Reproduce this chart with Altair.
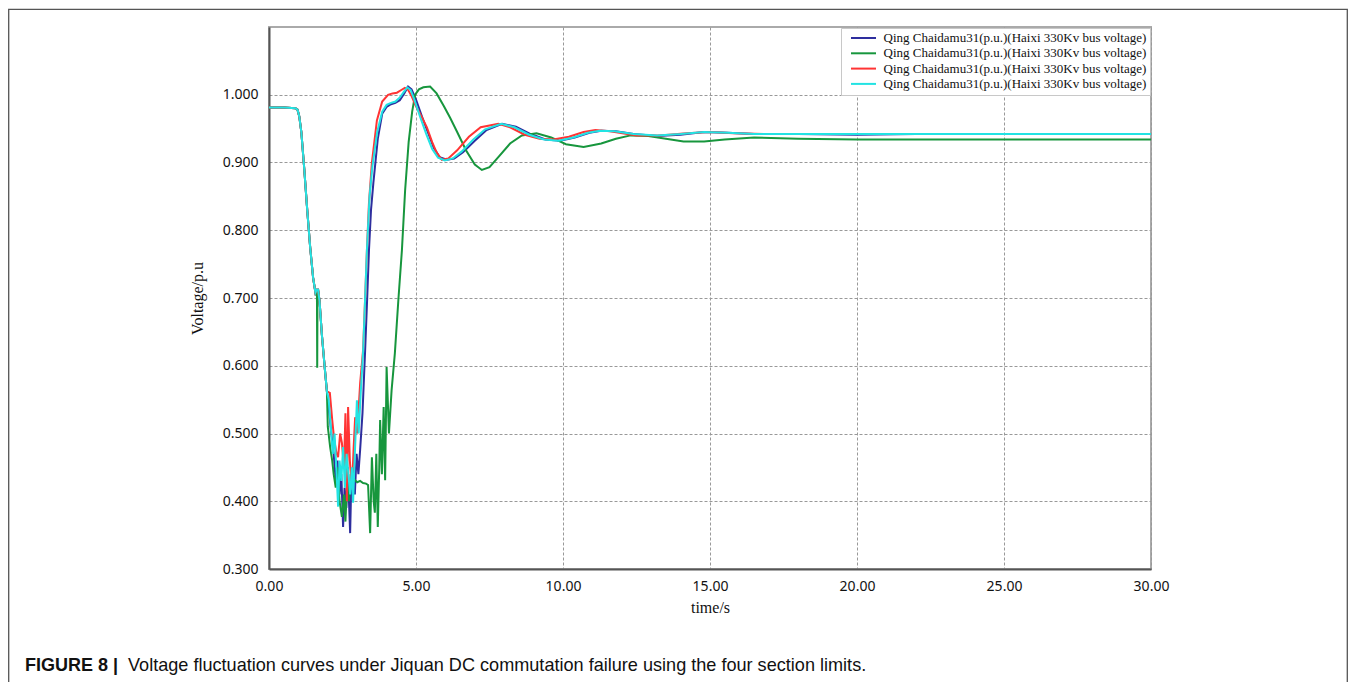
import altair as alt
import pandas as pd

series_keys = ["s1", "s2", "s3", "s4"]
legend_labels = ["Qing Chaidamu31(p.u.)(Haixi 330Kv bus voltage)"] * 4
series_colors = ["#2e2e9e", "#17963d", "#ff3434", "#22e3e3"]

x_ticks = [0, 5, 10, 15, 20, 25, 30]
y_ticks = [0.3, 0.4, 0.5, 0.6, 0.7, 0.8, 0.9, 1.0]

caption_bold = "FIGURE 8 |"
caption_text = "Voltage fluctuation curves under Jiquan DC commutation failure using the four section limits."

# common initial part (pre-fault and first drop)
t_drop = [0.0, 0.5, 0.9, 0.97, 1.03, 1.1, 1.2, 1.3, 1.4, 1.5, 1.58, 1.62, 1.67, 1.72, 1.8, 1.9, 1.97]
v_drop = [0.981, 0.981, 0.980, 0.978, 0.968, 0.945, 0.890, 0.830, 0.775, 0.730, 0.708, 0.712, 0.712, 0.695, 0.645, 0.595, 0.562]

t_blue = [2.05, 2.12, 2.2, 2.27, 2.33, 2.4, 2.46, 2.52, 2.57, 2.63, 2.68, 2.72, 2.76, 2.8, 2.86, 2.92, 2.98, 3.04, 3.1, 3.18,
          3.27, 3.34, 3.4, 3.47, 3.55, 3.7, 3.85, 4.0, 4.15, 4.3, 4.45, 4.6, 4.73, 4.85, 5.0, 5.2, 5.4, 5.6, 5.8, 6.05,
          6.3, 6.6, 7.0, 7.4, 7.93, 8.4, 8.9, 9.4, 9.9, 10.4, 10.9, 11.3, 11.8, 12.4, 13.2, 14.0, 14.8, 15.6, 16.5, 18.0,
          20.0, 22.0, 25.0, 28.0, 30.0]
v_blue = [0.53, 0.50, 0.47, 0.43, 0.46, 0.41, 0.44, 0.362, 0.42, 0.39, 0.45, 0.40, 0.353, 0.43, 0.45, 0.41, 0.47, 0.44, 0.476, 0.53,
          0.623, 0.70, 0.77, 0.83, 0.87, 0.935, 0.972, 0.982, 0.986, 0.988, 0.992, 1.002, 1.012, 1.008, 0.993, 0.968, 0.945, 0.922, 0.908, 0.904,
          0.906, 0.915, 0.932, 0.948, 0.957, 0.953, 0.942, 0.934, 0.932, 0.937, 0.944, 0.947, 0.946, 0.942, 0.939, 0.941, 0.945, 0.944, 0.942, 0.942,
          0.941, 0.942, 0.942, 0.942, 0.942]

t_green = [1.63, 1.64, 1.65,
           2.0, 2.08, 2.15, 2.2, 2.27, 2.33, 2.4, 2.48, 2.55, 2.6, 2.66, 2.72, 2.78, 2.82, 2.9, 3.0, 3.1, 3.2, 3.3, 3.37,
           3.44, 3.5, 3.56, 3.6, 3.65, 3.7, 3.75, 3.78, 3.84, 3.9, 3.95, 4.0, 4.08, 4.17, 4.28, 4.4, 4.52, 4.63, 4.75, 4.87,
           4.97, 5.1, 5.25, 5.48, 5.7, 5.95, 6.16, 6.4, 6.7, 7.0, 7.24, 7.5, 7.8, 8.2, 8.6, 9.1, 9.6, 10.1, 10.7, 11.3,
           11.8, 12.3, 12.9, 13.5, 14.1, 14.8, 15.5, 16.5, 18.0, 20.0, 22.0, 25.0, 28.0, 30.0]
v_green = [0.712, 0.597, 0.712,
           0.51, 0.48, 0.46, 0.44, 0.42, 0.45, 0.40, 0.377, 0.41, 0.37, 0.43, 0.40, 0.44, 0.43, 0.432, 0.428, 0.430, 0.427, 0.426, 0.424,
           0.353, 0.465, 0.40, 0.383, 0.47, 0.362, 0.45, 0.52, 0.44, 0.539, 0.431, 0.598, 0.50, 0.564, 0.618, 0.697, 0.77, 0.859, 0.93, 0.975,
           1.000, 1.008, 1.011, 1.012, 1.002, 0.983, 0.966, 0.945, 0.918, 0.897, 0.889, 0.893, 0.908, 0.928, 0.940, 0.943, 0.937, 0.927, 0.923, 0.928,
           0.935, 0.940, 0.939, 0.935, 0.931, 0.931, 0.934, 0.937, 0.935, 0.934, 0.934, 0.934, 0.934, 0.934]

t_red = [2.07, 2.15, 2.22, 2.3, 2.35, 2.42, 2.48, 2.55, 2.6, 2.65, 2.69, 2.75, 2.82, 2.88, 2.93, 3.0, 3.1, 3.2, 3.27, 3.33,
         3.4, 3.5, 3.67, 3.85, 4.05, 4.2, 4.35, 4.5, 4.62, 4.72, 4.85, 5.0, 5.2, 5.37, 5.55, 5.7, 5.88, 6.1, 6.4, 6.8,
         7.2, 7.8, 8.2, 8.7, 9.2, 9.67, 10.2, 10.7, 11.1, 11.6, 12.5, 13.3, 14.2, 15.0, 15.8, 17.0, 19.0, 22.0, 25.0, 28.0,
         30.0]
v_red = [0.56, 0.52, 0.49, 0.47, 0.465, 0.50, 0.486, 0.45, 0.53, 0.40, 0.539, 0.46, 0.417, 0.48, 0.524, 0.50, 0.574, 0.623, 0.70, 0.77,
         0.84, 0.90, 0.962, 0.99, 1.000, 1.002, 1.003, 1.007, 1.010, 1.008, 0.998, 0.983, 0.967, 0.952, 0.930, 0.915, 0.904, 0.906, 0.918, 0.938,
         0.952, 0.957, 0.952, 0.941, 0.935, 0.934, 0.938, 0.945, 0.948, 0.946, 0.940, 0.940, 0.943, 0.945, 0.943, 0.942, 0.942, 0.942, 0.942, 0.942,
         0.942]

t_cyan = [2.03, 2.1, 2.17, 2.23, 2.3, 2.35, 2.4, 2.46, 2.52, 2.58, 2.64, 2.7, 2.76, 2.82, 2.86, 2.92, 2.99, 3.05, 3.12, 3.2,
          3.27, 3.33, 3.42, 3.52, 3.68, 3.85, 4.0, 4.15, 4.3, 4.45, 4.58, 4.7, 4.82, 4.95, 5.15, 5.35, 5.55, 5.75, 5.98, 6.25,
          6.55, 6.95, 7.35, 7.9, 8.35, 8.85, 9.35, 9.85, 10.35, 10.85, 11.25, 11.75, 12.4, 13.2, 14.0, 14.8, 15.6, 16.5, 18.0, 20.0,
          22.0, 25.0, 28.0, 30.0]
v_cyan = [0.55, 0.51, 0.47, 0.50, 0.44, 0.392, 0.46, 0.43, 0.48, 0.42, 0.47, 0.44, 0.41, 0.45, 0.398, 0.47, 0.549, 0.50, 0.56, 0.62,
          0.70, 0.77, 0.85, 0.895, 0.945, 0.975, 0.985, 0.988, 0.990, 0.996, 1.004, 1.011, 1.007, 0.992, 0.966, 0.942, 0.920, 0.907, 0.903, 0.906,
          0.916, 0.934, 0.949, 0.957, 0.952, 0.941, 0.934, 0.932, 0.937, 0.944, 0.947, 0.946, 0.942, 0.940, 0.942, 0.945, 0.944, 0.942, 0.942, 0.942,
          0.942, 0.942, 0.942, 0.942]


def full_series(ts, vs):
    return sorted(zip(t_drop + ts, v_drop + vs), key=lambda p: p[0])


rows = []
for key, ts, vs in [("s1", t_blue, v_blue), ("s2", t_green, v_green),
                    ("s3", t_red, v_red), ("s4", t_cyan, v_cyan)]:
    for i, (t, v) in enumerate(full_series(ts, vs)):
        rows.append({"series": key, "t": t, "v": v, "order": i})
df = pd.DataFrame(rows)

label_expr = " : ".join(
    f"datum.label == '{k}' ? '{lab}'" for k, lab in zip(series_keys, legend_labels)
) + " : ''"

lines = alt.Chart(df).mark_line(strokeWidth=2, clip=True).encode(
    x=alt.X("t:Q", scale=alt.Scale(domain=[0, 30], nice=False),
            axis=alt.Axis(values=x_ticks, format=".2f", title="time/s", labelFlush=False,
                          labelPadding=10, titlePadding=6)),
    y=alt.Y("v:Q", scale=alt.Scale(domain=[0.3, 1.1], nice=False, zero=False),
            axis=alt.Axis(values=y_ticks, format=".3f", title="Voltage/p.u",
                          labelPadding=11, titlePadding=17)),
    color=alt.Color("series:N", scale=alt.Scale(domain=series_keys, range=series_colors),
                    legend=alt.Legend(title=None, orient="top-right", offset=1, labelExpr=label_expr,
                                      symbolType="M0,0H5", symbolStrokeWidth=2, symbolSize=100,
                                      labelFont="Liberation Serif", labelFontSize=13, labelColor="#111",
                                      labelLimit=400, labelOffset=26, padding=3.5, rowPadding=1.3,
                                      fillColor="white", strokeColor="#c8c8c8")),
    order="order:Q",
)

one = pd.DataFrame({"a": [0]})

frame = alt.Chart(one).mark_rect(filled=False, stroke="#555555", strokeWidth=1.3).encode(
    x=alt.value(-260.3), x2=alt.value(1078.3), y=alt.value(-17.7), y2=alt.value(700)
)

cap1 = alt.Chart(one).mark_text(align="left", baseline="alphabetic", font="Liberation Sans",
                                fontSize=18, fontWeight="bold", color="#111").encode(
    x=alt.value(-244), y=alt.value(644), text=alt.value(caption_bold)
)
cap2 = alt.Chart(one).mark_text(align="left", baseline="alphabetic", font="Liberation Sans",
                                fontSize=18.1, color="#111").encode(
    x=alt.value(-141), y=alt.value(644), text=alt.value(caption_text)
)

chart = alt.layer(frame, lines, cap1, cap2).properties(
    width=882, height=542,
    autosize=alt.AutoSizeParams(type="none"),
    padding={"left": 261, "top": 19, "right": 197, "bottom": 113},
).configure_view(
    stroke="#aaaaaa", strokeWidth=2
).configure_axis(
    labelFont="Noto Sans", labelFontSize=14, labelColor="#111",
    titleFont="Liberation Serif", titleFontSize=16, titleFontWeight="normal", titleColor="#111",
    grid=True, gridColor="#999999", gridDash=[3, 2], gridWidth=1,
    domainColor="#555555", domainWidth=2, ticks=False,
)

chart.save("out.html", embed_options={"renderer": "svg", "actions": False})
